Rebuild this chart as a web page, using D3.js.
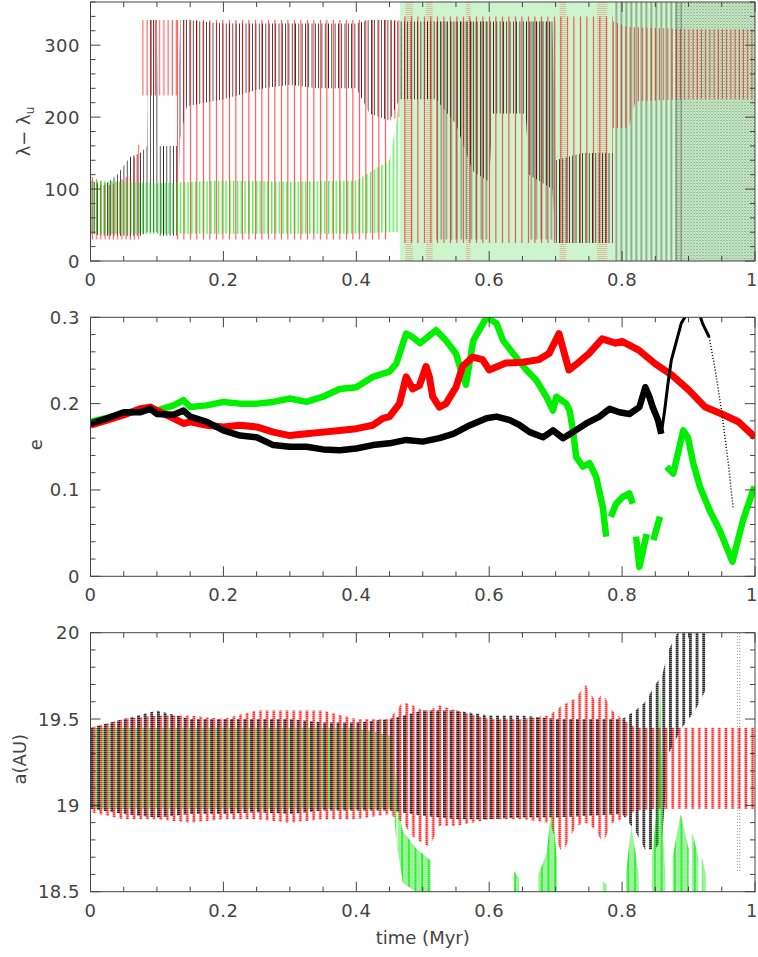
<!DOCTYPE html>
<html>
<head>
<meta charset="utf-8">
<script src="https://cdn.jsdelivr.net/npm/d3@7"></script>
<style>
body { margin: 0; background: #fff; }
svg text { font-family: "DejaVu Sans", sans-serif; fill: #444; font-size: 18px; }
</style>
</head>
<body>
<svg width="758" height="957"></svg>
<script>
// ---- axis ticks ----
var xTicks = [0, 0.2, 0.4, 0.6, 0.8, 1];
var xTickLabels = ["0", "0.2", "0.4", "0.6", "0.8", "1"];
var lamTicks = [0, 100, 200, 300];
var lamTickLabels = ["0", "100", "200", "300"];
var eTicks = [0, 0.1, 0.2, 0.3];
var eTickLabels = ["0", "0.1", "0.2", "0.3"];
var aTicks = [18.5, 19, 19.5, 20];
var aTickLabels = ["18.5", "19", "19.5", "20"];

// ---- panel 1: lambda - lambda_u (envelopes, null = gap) ----
var lamBlackT  = [0, 0.02, 0.04, 0.06, 0.075, 0.085, 0.088, 0.1, 0.103, 0.13, 0.135, 0.145, 0.2, 0.26, 0.3, 0.34, 0.4, 0.42, 0.45, 0.465, 0.52, 0.55, 0.575, 0.6, 0.605, 0.655, 0.66, 0.695, 0.7, 0.74, 0.786];
var lamBlackLo = [38, 35, 35, 35, 35, 40, 40, 40, 35, 35, 170, 215, 225, 240, 245, 240, 240, 205, 195, 225, 225, 190, 125, 110, 205, 205, 120, 100, 25, 25, 25];
var lamBlackHi = [112, 105, 120, 145, 150, 160, 335, 335, 160, 160, 335, 335, 330, 330, 330, 330, 330, 335, 335, 333, 333, 333, 333, 333, 333, 333, 333, 333, 140, 150, 150];
var lamBlackLinesT  = [0.52, 0.6, 0.6, 0.66, 0.7, 0.7, 0.786, 0.89];
var lamBlackLinesLo = [30, 30, null, 30, 30, null, 0, 0];
var lamBlackLinesHi = [333, 333, null, 333, 333, null, 360, 360];
var lamBlackNoiseT  = [0.88, 1.0];
var lamBlackNoiseLo = [0, 0];
var lamBlackNoiseHi = [360, 360];

var lamRedT  = [0, 0.03, 0.06, 0.07, 0.076, 0.076, 0.077, 0.13, 0.13, 0.45, 0.465, 0.465, 0.786, 0.81, 0.82, 0.9, 1.0];
var lamRedLo = [30, 30, 30, 30, 30, null, 230, 230, null, 195, 200, null, 185, 185, 222, 225, 225];
var lamRedHi = [118, 105, 120, 160, 165, null, 335, 335, null, 335, 335, null, 333, 325, 325, 322, 322];
var lamRedSwingT  = [0.076, 0.078, 0.078, 0.13, 0.45, 0.45, 0.465, 0.786];
var lamRedSwingLo = [160, 160, null, 30, 30, null, 25, 25];
var lamRedSwingHi = [335, 335, null, 335, 335, null, 340, 340];
var lamRedDotsStart = [0.474, 0.505, 0.565, 0.706, 0.762];
var lamRedDotsEnd   = [0.485, 0.515, 0.572, 0.716, 0.778];

var lamGreenT  = [0, 0.1, 0.2, 0.3, 0.4, 0.45, 0.46, 0.466];
var lamGreenLo = [38, 38, 38, 38, 38, 40, 40, 40];
var lamGreenHi = [112, 108, 112, 110, 112, 140, 190, 250];
var lamGreenCircT  = [0.466, 1.0];
var lamGreenCircLo = [0, 0];
var lamGreenCircHi = [360, 360];

// ---- panel 2: eccentricity ----
var eBlackT = [0, 0.025, 0.05, 0.075, 0.09, 0.1, 0.125, 0.14, 0.15, 0.175, 0.2, 0.225, 0.25, 0.275, 0.3, 0.325, 0.35, 0.375, 0.4, 0.425, 0.45, 0.475, 0.5, 0.525, 0.546, 0.571, 0.596, 0.611, 0.631, 0.646, 0.661, 0.681, 0.696, 0.711, 0.726, 0.746, 0.766, 0.781, 0.796, 0.811, 0.826, 0.835, 0.841, 0.846, 0.854, 0.859];
var eBlack  = [0.177, 0.183, 0.190, 0.190, 0.194, 0.188, 0.187, 0.192, 0.185, 0.179, 0.169, 0.163, 0.161, 0.152, 0.150, 0.150, 0.147, 0.146, 0.148, 0.152, 0.154, 0.158, 0.156, 0.160, 0.165, 0.175, 0.183, 0.185, 0.181, 0.175, 0.167, 0.161, 0.169, 0.160, 0.167, 0.177, 0.185, 0.194, 0.190, 0.188, 0.196, 0.219, 0.208, 0.196, 0.181, 0.165];
var eBlackUpT = [0.859, 0.864, 0.869, 0.874, 0.881, 0.889, 0.896, 0.916, 0.921, 0.931];
var eBlackUp  = [0.165, 0.192, 0.223, 0.250, 0.270, 0.293, 0.302, 0.305, 0.293, 0.277];
var eBlackTailT = [0.931, 0.94, 0.95, 0.96, 0.967];
var eBlackTail  = [0.277, 0.240, 0.190, 0.130, 0.080];
var eRedT = [0, 0.025, 0.05, 0.075, 0.09, 0.1, 0.125, 0.14, 0.15, 0.175, 0.2, 0.225, 0.25, 0.275, 0.3, 0.325, 0.35, 0.375, 0.4, 0.425, 0.44, 0.45, 0.465, 0.475, 0.485, 0.495, 0.505, 0.51, 0.515, 0.525, 0.535, 0.55, 0.56, 0.575, 0.59, 0.6, 0.625, 0.65, 0.675, 0.69, 0.705, 0.72, 0.735, 0.75, 0.77, 0.79, 0.8, 0.825, 0.85, 0.875, 0.9, 0.925, 0.95, 0.975, 1.0];
var eRed  = [0.175, 0.181, 0.187, 0.194, 0.196, 0.192, 0.183, 0.177, 0.179, 0.175, 0.173, 0.175, 0.173, 0.167, 0.163, 0.165, 0.167, 0.169, 0.171, 0.175, 0.183, 0.185, 0.200, 0.231, 0.217, 0.221, 0.243, 0.231, 0.208, 0.196, 0.200, 0.219, 0.243, 0.254, 0.251, 0.239, 0.247, 0.248, 0.251, 0.258, 0.281, 0.239, 0.248, 0.258, 0.275, 0.270, 0.272, 0.262, 0.246, 0.233, 0.216, 0.196, 0.188, 0.179, 0.161];
var eGreenT = [0, 0.05, 0.09, 0.1, 0.125, 0.14, 0.15, 0.175, 0.2, 0.225, 0.25, 0.275, 0.3, 0.325, 0.35, 0.375, 0.4, 0.425, 0.45, 0.46, 0.475, 0.485, 0.496, 0.52, 0.535, 0.55, 0.56, 0.565, 0.576, 0.596, 0.611, 0.621, 0.636, 0.656, 0.671, 0.686, 0.696, 0.701, 0.716, 0.721, 0.726, 0.731, 0.741, 0.751, 0.761, 0.771, 0.776, 0.779, 0.783, 0.791, 0.801, 0.811, 0.816, 0.818, 0.821, 0.826, 0.837, 0.842, 0.847, 0.857, 0.862, 0.867, 0.877, 0.892, 0.899, 0.907, 0.917, 0.932, 0.947, 0.966, 0.982, 0.999];
var eGreen  = [0.179, 0.188, 0.196, 0.192, 0.198, 0.204, 0.196, 0.198, 0.202, 0.200, 0.200, 0.202, 0.206, 0.202, 0.208, 0.217, 0.219, 0.231, 0.237, 0.246, 0.281, 0.277, 0.270, 0.285, 0.273, 0.258, 0.232, 0.222, 0.273, 0.300, 0.293, 0.273, 0.258, 0.239, 0.227, 0.208, 0.192, 0.208, 0.200, 0.192, 0.169, 0.138, 0.127, 0.131, 0.115, 0.080, 0.046, null, 0.069, 0.084, 0.092, 0.096, 0.084, null, 0.046, 0.011, 0.049, null, 0.042, 0.069, null, 0.127, 0.119, 0.169, 0.161, 0.131, 0.104, 0.076, 0.053, 0.017, 0.065, 0.104];

// ---- panel 3: semimajor axis (envelopes, null = gap) ----
var aBlackT  = [0, 0.05, 0.1, 0.15, 0.2, 0.25, 0.3, 0.35, 0.4, 0.45, 0.5, 0.55, 0.6, 0.65, 0.7, 0.75, 0.8, 0.82, 0.835, 0.85, 0.86, 0.87, 0.89, 0.91, 0.93];
var aBlackLo = [18.98, 18.95, 18.93, 18.95, 18.95, 18.96, 18.95, 18.97, 18.97, 18.97, 18.94, 18.92, 18.92, 18.93, 18.93, 18.94, 18.95, 18.85, 18.74, 18.75, 18.8, 19.3, 19.45, 19.55, 19.7];
var aBlackHi = [19.45, 19.5, 19.55, 19.5, 19.5, 19.5, 19.5, 19.48, 19.48, 19.5, 19.55, 19.55, 19.52, 19.52, 19.5, 19.5, 19.5, 19.55, 19.6, 19.7, 19.75, 19.9, 20.05, 20.05, 20.05];
var aBlackTailT  = [0.973, 0.978];
var aBlackTailLo = [18.62, 18.62];
var aBlackTailHi = [20, 20];
var aRedT  = [0, 0.05, 0.1, 0.15, 0.2, 0.25, 0.3, 0.35, 0.4, 0.45, 0.47, 0.485, 0.5, 0.51, 0.525, 0.55, 0.6, 0.65, 0.69, 0.71, 0.73, 0.745, 0.76, 0.771, 0.785, 0.8, 0.82, 0.85, 0.9, 0.95, 1.0];
var aRedLo = [18.96, 18.92, 18.92, 18.9, 18.92, 18.92, 18.9, 18.92, 18.92, 18.95, 18.9, 18.82, 18.78, 18.76, 18.88, 18.88, 18.92, 18.92, 18.9, 18.72, 18.88, 18.9, 18.86, 18.78, 18.9, 18.92, 18.97, 18.98, 18.98, 18.98, 18.98];
var aRedHi = [19.45, 19.5, 19.52, 19.52, 19.5, 19.55, 19.55, 19.55, 19.5, 19.5, 19.6, 19.58, 19.55, 19.55, 19.58, 19.55, 19.5, 19.5, 19.52, 19.58, 19.62, 19.7, 19.6, 19.65, 19.55, 19.5, 19.45, 19.45, 19.45, 19.45, 19.45];
var aGreenT  = [0, 0.1, 0.2, 0.3, 0.4, 0.455, 0.462, 0.47, 0.49, 0.512, 0.52, 0.637, 0.645, 0.66, 0.674, 0.686, 0.694, 0.702, 0.71, 0.771, 0.777, 0.78, 0.806, 0.814, 0.825, 0.83, 0.845, 0.853, 0.857, 0.861, 0.865, 0.87, 0.876, 0.888, 0.9, 0.903, 0.905, 0.915, 0.918, 0.92, 0.926];
var aGreenLo = [18.98, 18.98, 18.98, 18.98, 18.98, 18.98, 18.75, 18.55, 18.5, 18.5, null, 18.5, 18.5, null, 18.5, 18.5, 18.5, 18.5, null, 18.5, 18.5, null, 18.5, 18.5, 18.5, null, 18.5, 18.5, 18.5, 18.5, 18.5, null, 18.5, 18.5, 18.5, null, 18.5, 18.5, null, 18.5, 18.5];
var aGreenHi = [19.45, 19.45, 19.45, 19.45, 19.45, 19.4, 19.0, 18.85, 18.75, 18.68, null, 18.62, 18.58, null, 18.6, 18.72, 18.98, 18.7, null, 18.56, 18.54, null, 18.62, 18.88, 18.6, null, 18.7, 19.0, 19.75, 18.9, 18.6, null, 18.7, 18.95, 18.75, null, 18.85, 18.7, null, 18.7, 18.6];

var svg = d3.select("svg"),
    defs = svg.append("defs");

var left = 90.5, right = 755, panelH = 259;
var panelTop = [2, 317.3, 632.7];

var x = d3.scaleLinear().domain([0, 1]).range([left, right]);
var yLam = d3.scaleLinear().domain([0, 360]).range([panelTop[0] + panelH, panelTop[0]]);
var yE = d3.scaleLinear().domain([0, 0.3]).range([panelTop[1] + panelH, panelTop[1]]);
var yA = d3.scaleLinear().domain([18.5, 20]).range([panelTop[2] + panelH, panelTop[2]]);

// texture patterns: vertical stripes / dots
function pattern(id, w, h, rects, color, op) {
    var p = defs.append("pattern")
        .attr("id", id)
        .attr("patternUnits", "userSpaceOnUse")
        .attr("x", left)
        .attr("width", w)
        .attr("height", h);
    rects.forEach(function(r) {
        p.append("rect")
            .attr("x", r[0]).attr("y", r[1])
            .attr("width", r[2]).attr("height", r[3])
            .attr("fill", color)
            .attr("fill-opacity", op);
    });
    return "url(#" + id + ")";
}

var GREEN = "#00e400", RED = "#ff0000";

var pBlackLib   = pattern("bl", 3.3, 1, [[0, 0, 0.8, 1]], "#000", 0.85);
var pRedLib     = pattern("rl", 4.2, 1, [[1.5, 0, 0.8, 1]], RED, 0.9);
var pRedSwing   = pattern("rs", 6.5, 1, [[2, 0, 0.9, 1]], RED, 0.85);
var pGreenLib   = pattern("gl", 3.8, 1, [[2.2, 0, 1, 1]], GREEN, 0.95);
var pGreenCirc  = pattern("gc", 2, 2, [[0, 0, 1, 1], [1, 1, 1, 1]], "#22cc22", 0.45);
var pRedDots    = pattern("rd", 2, 2, [[1, 0, 1, 1]], RED, 0.45);
var pBlackLines = pattern("bk", 5, 1, [[0.5, 0, 0.8, 1]], "#000", 0.7);
var pBlackNoise = pattern("bn", 3, 3, [[0, 0, 1, 1], [1.5, 1.5, 1, 1]], "#000", 0.5);

var pBlackA = pattern("ba", 6.65, 2, [[0, 0, 2.8, 1.6]], "#000", 0.85);
var pRedA   = pattern("ra", 6.65, 2, [[2.4, 0, 2.6, 1.6]], RED, 0.85);
var pGreenA = pattern("ga", 6.65, 2, [[5, 0, 1.6, 1.6]], GREEN, 0.9);
var pGreenDots = pattern("gd", 2, 2, [[0, 0, 1, 1], [1, 1, 1, 1]], GREEN, 0.8);
var pBlackDots = pattern("bd", 3, 3, [[1, 0, 1, 1]], "#000", 0.6);

// panel groups with clipping
var panels = panelTop.map(function(top, i) {
    defs.append("clipPath").attr("id", "clip" + i)
        .append("rect")
        .attr("x", left).attr("y", top)
        .attr("width", right - left).attr("height", panelH);
    return svg.append("g").attr("clip-path", "url(#clip" + i + ")");
});

function band(g, y, t, lo, hi, fill) {
    var rows = t.map(function(d, i) { return {t: d, lo: lo[i], hi: hi[i]}; });
    var area = d3.area()
        .defined(function(d) { return d.lo != null; })
        .x(function(d) { return x(d.t); })
        .y0(function(d) { return y(d.lo); })
        .y1(function(d) { return y(d.hi); });
    g.append("path").datum(rows).attr("d", area).attr("fill", fill);
}

function intervals(g, y, start, end, lo, hi, fill) {
    start.forEach(function(s, i) {
        band(g, y, [s, end[i]], [lo, lo], [hi, hi], fill);
    });
}

function line(g, y, t, v, color, width, dash) {
    var rows = t.map(function(d, i) { return {t: d, v: v[i]}; });
    var path = d3.line()
        .defined(function(d) { return d.v != null; })
        .x(function(d) { return x(d.t); })
        .y(function(d) { return y(d.v); });
    g.append("path").datum(rows)
        .attr("d", path)
        .attr("fill", "none")
        .attr("stroke", color)
        .attr("stroke-width", width)
        .attr("stroke-linejoin", "round")
        .attr("stroke-dasharray", dash || null);
}

// panel 1
var g1 = panels[0];
band(g1, yLam, lamGreenCircT, lamGreenCircLo, lamGreenCircHi, pGreenCirc);
band(g1, yLam, lamBlackNoiseT, lamBlackNoiseLo, lamBlackNoiseHi, pBlackNoise);
intervals(g1, yLam, lamRedDotsStart, lamRedDotsEnd, 0, 360, pRedDots);
band(g1, yLam, lamBlackLinesT, lamBlackLinesLo, lamBlackLinesHi, pBlackLines);
band(g1, yLam, lamBlackT, lamBlackLo, lamBlackHi, pBlackLib);
band(g1, yLam, lamRedSwingT, lamRedSwingLo, lamRedSwingHi, pRedSwing);
band(g1, yLam, lamRedT, lamRedLo, lamRedHi, pRedLib);
band(g1, yLam, lamGreenT, lamGreenLo, lamGreenHi, pGreenLib);

// panel 2
var g2 = panels[1];
line(g2, yE, eGreenT, eGreen, "#00f000", 6.5);
line(g2, yE, eRedT, eRed, RED, 7);
line(g2, yE, eBlackT, eBlack, "#000", 6.5);
line(g2, yE, eBlackUpT, eBlackUp, "#000", 3);
line(g2, yE, eBlackTailT, eBlackTail, "#000", 1.5, "1 2");

// panel 3
var g3 = panels[2];
band(g3, yA, aGreenT, aGreenLo, aGreenHi, pGreenA);
band(g3, yA, aRedT, aRedLo, aRedHi, pRedA);
band(g3, yA, aBlackT, aBlackLo, aBlackHi, pBlackA);
band(g3, yA, aBlackTailT, aBlackTailLo, aBlackTailHi, pBlackDots);
// green pieces below 18.9 after 0.46 drawn denser
var split = aGreenT.indexOf(0.462);
band(g3, yA, aGreenT.slice(split), aGreenLo.slice(split), aGreenHi.slice(split), pGreenDots);

// frames, ticks and labels
var axisColor = "#444";
function frame(y, top, ticks, labels, minorStep) {
    var bottom = top + panelH;
    var g = svg.append("g").attr("stroke", axisColor).attr("stroke-width", 1);
    g.append("rect")
        .attr("x", left).attr("y", top)
        .attr("width", right - left).attr("height", panelH)
        .attr("fill", "none");

    function isMajor(v, list) {
        return list.some(function(m) { return Math.abs(m - v) < 1e-6; });
    }
    d3.range(0, 1 + 1e-6, 0.05).forEach(function(v) {
        var len = isMajor(v, xTicks) ? 10 : 5;
        g.append("line").attr("x1", x(v)).attr("x2", x(v)).attr("y1", bottom).attr("y2", bottom - len);
        g.append("line").attr("x1", x(v)).attr("x2", x(v)).attr("y1", top).attr("y2", top + len);
    });
    var d = y.domain();
    d3.range(d[0], d[1] + minorStep / 2, minorStep).forEach(function(v) {
        var len = isMajor(v, ticks) ? 10 : 5;
        g.append("line").attr("x1", left).attr("x2", left + len).attr("y1", y(v)).attr("y2", y(v));
        g.append("line").attr("x1", right).attr("x2", right - len).attr("y1", y(v)).attr("y2", y(v));
    });

    svg.append("g").selectAll("text")
        .data(xTicks).enter().append("text")
        .attr("x", function(v, i) { return i === xTicks.length - 1 ? 758 : x(v); })
        .attr("y", bottom + 25)
        .attr("text-anchor", function(v, i) { return i === xTicks.length - 1 ? "end" : "middle"; })
        .attr("letter-spacing", "0.5")
        .text(function(v, i) { return xTickLabels[i]; });
    svg.append("g").selectAll("text")
        .data(ticks).enter().append("text")
        .attr("x", 80)
        .attr("y", function(v) { return y(v) + 6.5; })
        .attr("text-anchor", "end")
        .attr("letter-spacing", "0.5")
        .text(function(v, i) { return labels[i]; });
}

frame(yLam, panelTop[0], lamTicks, lamTickLabels, 20);
frame(yE, panelTop[1], eTicks, eTickLabels, 0.02);
frame(yA, panelTop[2], aTicks, aTickLabels, 0.1);

// axis titles
var t1 = svg.append("text")
    .attr("transform", "translate(30," + (panelTop[0] + panelH / 2) + ") rotate(-90)")
    .attr("text-anchor", "middle");
t1.append("tspan").text("λ− λ");
t1.append("tspan").attr("font-size", "12px").attr("dy", 4).text("u");

svg.append("text")
    .attr("transform", "translate(42," + (panelTop[1] + panelH / 2 - 2) + ") rotate(-90)")
    .attr("text-anchor", "middle")
    .text("e");

svg.append("text")
    .attr("transform", "translate(26," + (panelTop[2] + panelH / 2 - 3) + ") rotate(-90)")
    .attr("text-anchor", "middle")
    .text("a(AU)");

svg.append("text")
    .attr("x", (left + right) / 2)
    .attr("y", 944)
    .attr("text-anchor", "middle")
    .text("time (Myr)");
</script>
</body>
</html>
